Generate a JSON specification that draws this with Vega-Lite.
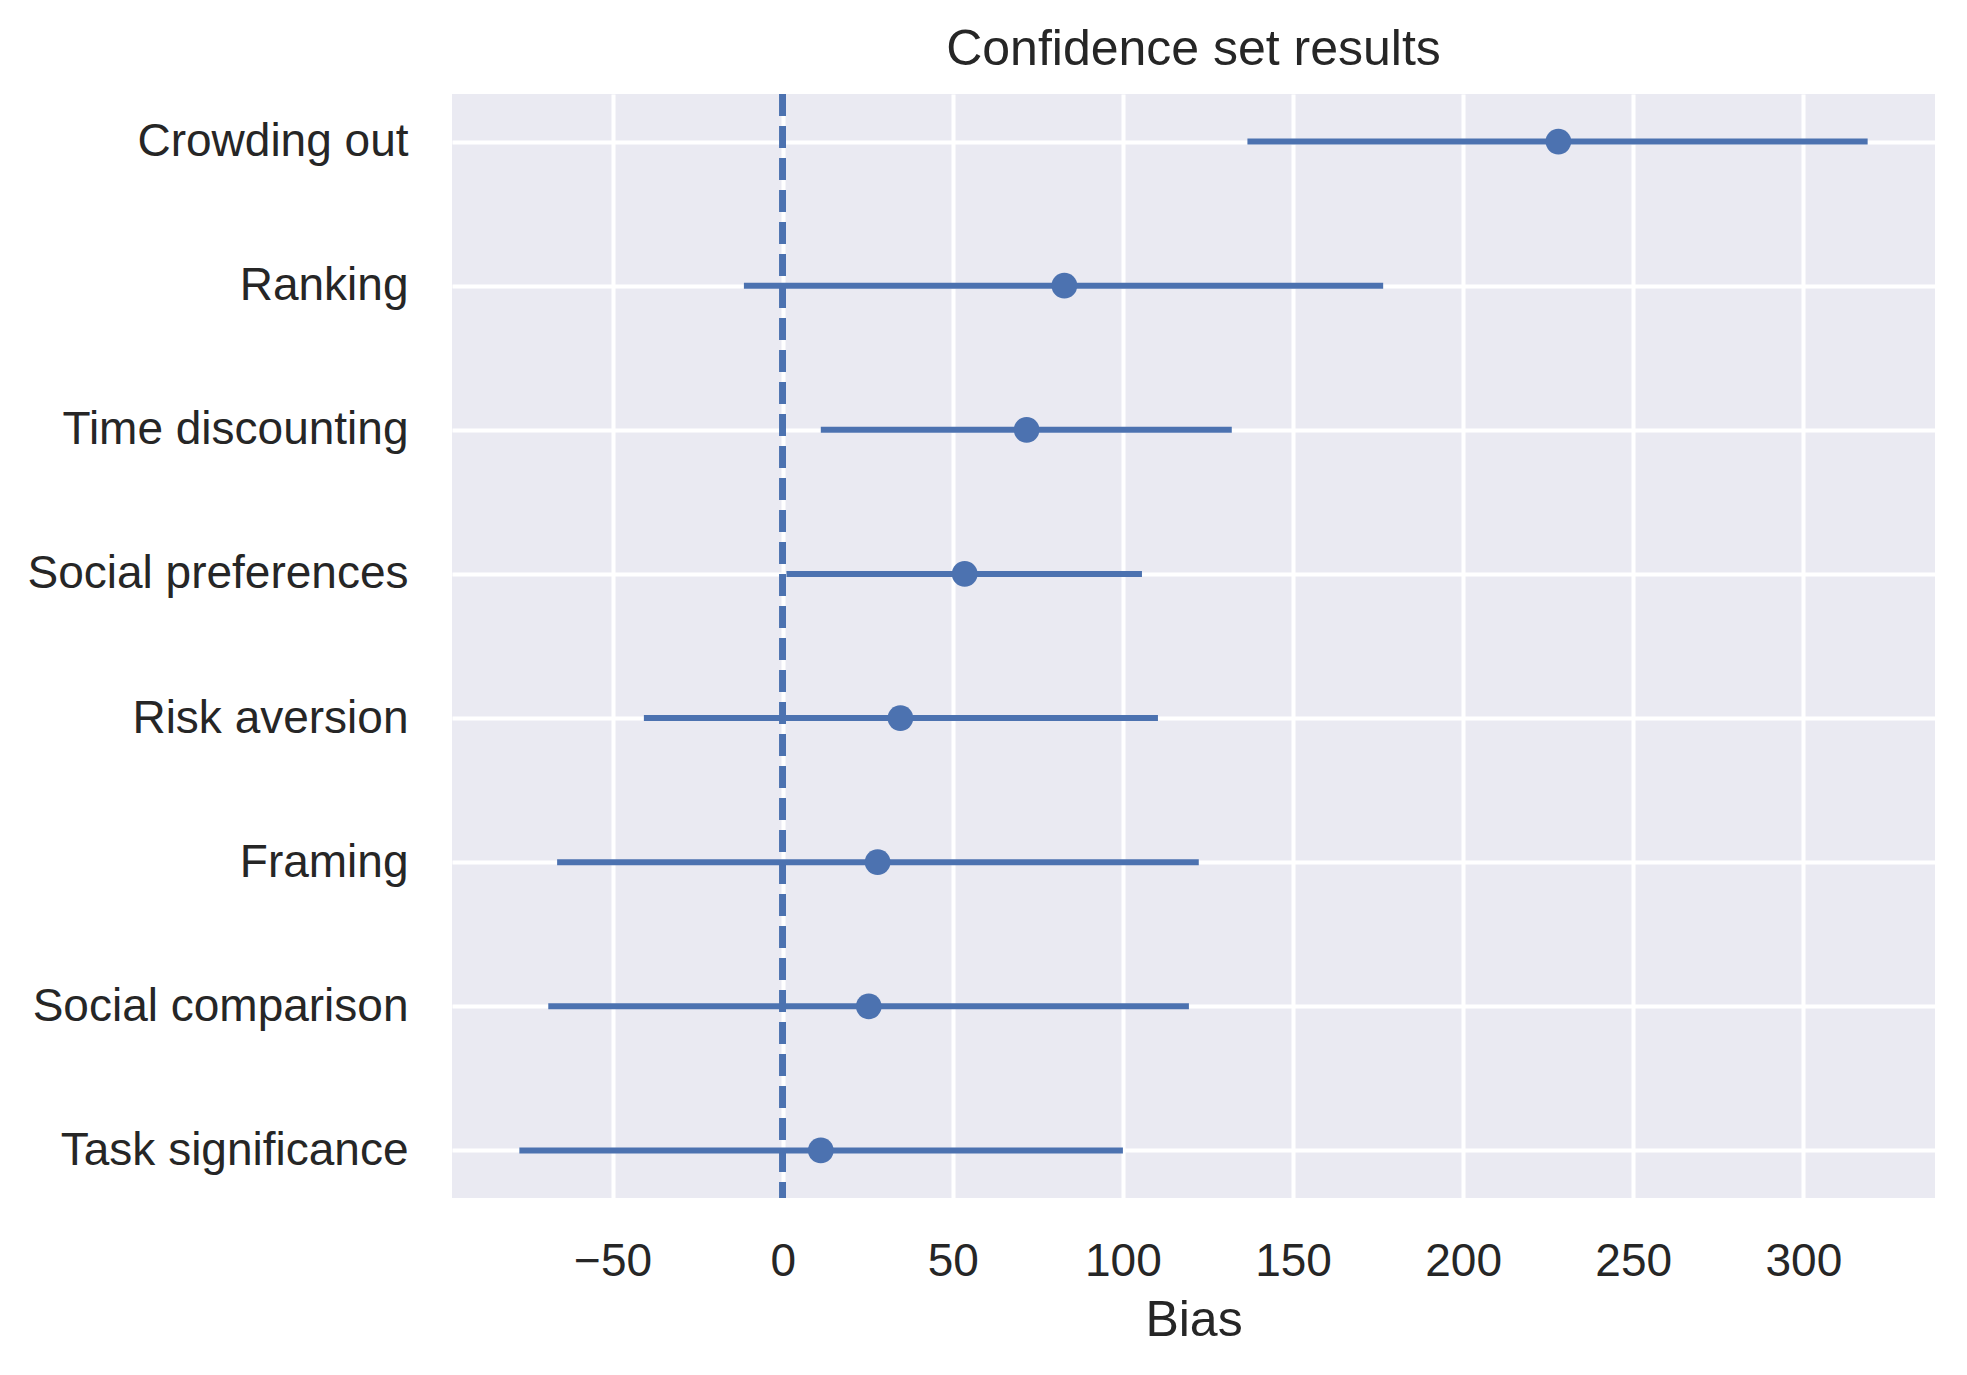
{
  "$schema": "https://vega.github.io/schema/vega-lite/v6.json",
  "autosize": "none",
  "width": 1483,
  "height": 1104,
  "padding": {"left": 452, "top": 94, "right": 32, "bottom": 177},
  "background": "white",
  "view": {"fill": "#EAEAF2", "stroke": null},
  "title": {
    "text": "Confidence set results",
    "font": "Liberation Sans",
    "fontSize": 50,
    "fontWeight": "normal",
    "color": "#262626",
    "baseline": "alphabetic",
    "offset": 29,
    "dy": 53,
    "anchor": "middle"
  },
  "data": {
    "values": [
      {"bias": "Crowding out", "lo": 136.6, "est": 228.0, "hi": 318.9},
      {"bias": "Ranking", "lo": -11.4, "est": 82.8, "hi": 176.5},
      {"bias": "Time discounting", "lo": 11.2, "est": 71.7, "hi": 132.0},
      {"bias": "Social preferences", "lo": 1.1, "est": 53.5, "hi": 105.6},
      {"bias": "Risk aversion", "lo": -40.8, "est": 34.6, "hi": 110.3},
      {"bias": "Framing", "lo": -66.3, "est": 27.9, "hi": 122.3},
      {"bias": "Social comparison", "lo": -68.9, "est": 25.3, "hi": 119.4},
      {"bias": "Task significance", "lo": -77.4, "est": 11.2, "hi": 100.0}
    ]
  },
  "config": {
    "axis": {
      "domain": false,
      "ticks": false,
      "tickSize": 0,
      "grid": true,
      "gridColor": "white",
      "gridWidth": 4,
      "labelFont": "Liberation Sans",
      "labelFontSize": 46,
      "labelColor": "#262626",
      "labelLimit": 0,
      "titleFont": "Liberation Sans",
      "titleFontSize": 50,
      "titleFontWeight": "normal",
      "titleColor": "#262626"
    }
  },
  "layer": [
    {
      "mark": {"type": "rule", "color": "#4C72B0", "strokeWidth": 6, "strokeDash": [22, 10]},
      "encoding": {"x": {"datum": 0, "type": "quantitative"}}
    },
    {
      "mark": {"type": "rule", "color": "#4C72B0", "strokeWidth": 6},
      "encoding": {
        "y": {
          "field": "bias",
          "type": "nominal",
          "sort": null,
          "scale": {"type": "point", "padding": 0.33},
          "axis": {"title": null, "labelPadding": 44, "labelAlign": "right", "labelBaseline": "middle", "labelLimit": 0}
        },
        "x": {
          "field": "lo",
          "type": "quantitative",
          "scale": {"domain": [-97.2, 338.7], "nice": false, "zero": false},
          "axis": {
            "title": "Bias",
            "values": [-50, 0, 50, 100, 150, 200, 250, 300],
            "labelExpr": "replace(datum.label, '-', '\u2212')",
            "labelBaseline": "alphabetic",
            "labelPadding": 77,
            "titleBaseline": "alphabetic",
            "titleY": 137
          }
        },
        "x2": {"field": "hi"}
      }
    },
    {
      "mark": {"type": "circle", "color": "#4C72B0", "opacity": 1, "size": 660},
      "encoding": {
        "y": {"field": "bias", "type": "nominal", "sort": null},
        "x": {"field": "est", "type": "quantitative"}
      }
    }
  ]
}
